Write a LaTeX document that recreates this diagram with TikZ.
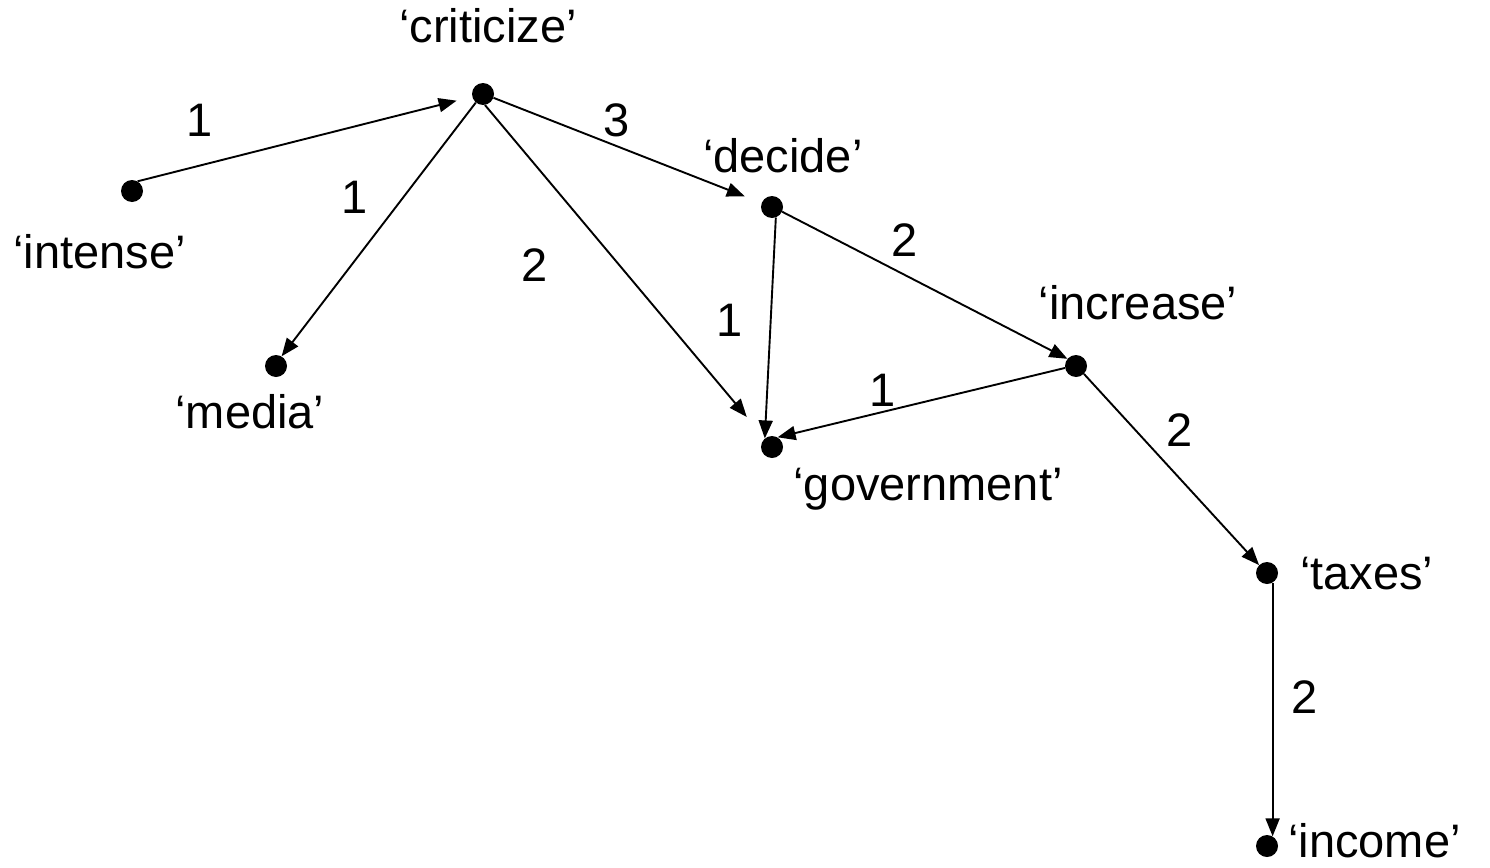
\documentclass[tikz,border=0pt]{standalone}
\usepackage{fontspec}
\setmainfont{Liberation Sans}
\usetikzlibrary{arrows.meta}
\begin{document}
\begin{tikzpicture}[x=1pt,y=-1pt,
  dot/.style={circle,fill=black,inner sep=0pt,minimum size=22pt},
  lbl/.style={font=\fontsize{47}{54}\selectfont,inner sep=0pt},
  edge/.style={-{Triangle[length=18pt,width=14pt]},line width=1.9pt}]
\useasboundingbox (0,0) rectangle (1490,867);
\node[dot] (intense) at (132,191) {};
\node[dot] (criticize) at (483,94) {};
\node[dot] (decide) at (772,207) {};
\node[dot] (media) at (276,366) {};
\node[dot] (government) at (772,447) {};
\node[dot] (increase) at (1076,366) {};
\node[dot] (taxes) at (1267,573) {};
\node[dot] (income) at (1267,846) {};

\node[lbl,anchor=base] (tcriticize) at (488,42) {‘criticize’};
\node[lbl,anchor=base west] (tintense) at (13,268) {‘intense’};
\node[lbl,anchor=base west] (tdecide) at (703,172) {‘decide’};
\node[lbl,anchor=base] (tmedia) at (250,428) {‘media’};
\node[lbl,anchor=base] (tincrease) at (1138,319) {‘increase’};
\node[lbl,anchor=base] (tgovernment) at (928,500) {‘government’};
\node[lbl,anchor=base west] (ttaxes) at (1300,589) {‘taxes’};
\node[lbl,anchor=base west] (tincome) at (1288,857) {‘income’};

\draw[edge,shorten >=16pt] (intense.60) -- (criticize);
\draw[edge] (criticize.230) -- (media.60);
\draw[edge,shorten >=28pt] (criticize.-80) -- (government);
\draw[edge,shorten >=18pt] (criticize.-20) -- (decide);
\draw[edge] (decide.-70) -- (government.130);
\draw[edge] (decide.-25) -- (increase.140);
\draw[edge] (increase.190) -- (government.60);
\draw[edge] (increase.-45) -- (taxes.135);
\draw[edge] (taxes.-60) -- (income.60);

\node[lbl] (w1) at (200,120) {1};
\node[lbl] (w2) at (355,197) {1};
\node[lbl] (w3) at (535,265) {2};
\node[lbl] (w4) at (617,120) {3};
\node[lbl] (w5) at (730,320) {1};
\node[lbl] (w6) at (905,240) {2};
\node[lbl] (w7) at (883,390) {1};
\node[lbl] (w8) at (1180,430) {2};
\node[lbl] (w9) at (1305,697) {2};
\end{tikzpicture}
\end{document}
